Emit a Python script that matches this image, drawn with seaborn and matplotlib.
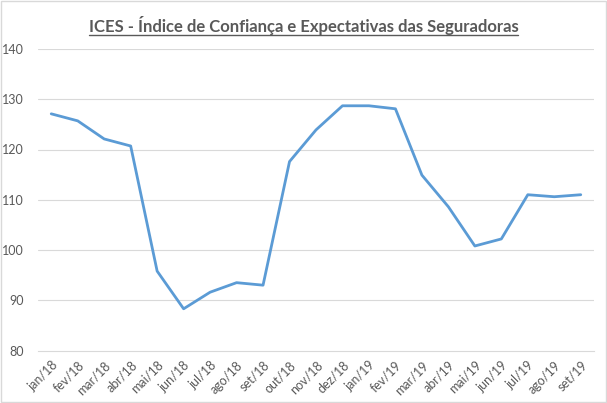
import matplotlib
matplotlib.use("Agg")
import matplotlib.pyplot as plt
import seaborn as sns
import pandas as pd
from matplotlib.patches import Rectangle
from matplotlib.lines import Line2D

months = ["jan/18", "fev/18", "mar/18", "abr/18", "mai/18", "jun/18", "jul/18",
          "ago/18", "set/18", "out/18", "nov/18", "dez/18", "jan/19", "fev/19",
          "mar/19", "abr/19", "mai/19", "jun/19", "jul/19", "ago/19", "set/19"]
ices = [127.1, 125.7, 122.1, 120.7, 95.8, 88.3, 91.6, 93.5, 93.0, 117.6,
        123.9, 128.7, 128.7, 128.1, 114.9, 108.6, 100.8, 102.2, 111.0, 110.6, 111.0]
yticks = [80, 90, 100, 110, 120, 130, 140]
title = "ICES - Índice de Confiança e Expectativas das Seguradoras"

sns.set_theme(style="white")
plt.rcParams['font.family'] = ['Lato', 'DejaVu Sans']

df = pd.DataFrame({"mes": months, "valor": ices})

fig = plt.figure(figsize=(6.07, 4.03), dpi=100)
ax = fig.add_axes([38/607, 1 - 350.5/403, (594-38)/607, (350.5-49)/403])

sns.lineplot(data=df, x="mes", y="valor", sort=False, ax=ax,
             color="#5b9bd5", linewidth=2.0)

ax.set_xlim(-0.5, len(months) - 0.5)
ax.set_ylim(80, 140)
ax.set_yticks(yticks)
ax.set_yticklabels([str(v) for v in yticks])
ax.set_xticks(range(len(months)))
ax.set_xticklabels(months, rotation=45, ha="right", rotation_mode="anchor")
ax.set_xticks([i - 0.5 for i in range(len(months) + 1)], minor=True)
ax.tick_params(axis="x", which="major", length=0, pad=6, labelsize=9, colors="#595959")
ax.tick_params(axis="x", which="minor", length=5, color="#d9d9d9", width=0.8)
ax.tick_params(axis="y", length=0, pad=10, labelsize=9, colors="#595959")
ax.set_xlabel("")
ax.set_ylabel("")

for y in yticks[1:]:
    ax.axhline(y, color="#d9d9d9", linewidth=0.8, zorder=0)
for s in ["top", "right", "left"]:
    ax.spines[s].set_visible(False)
ax.spines["bottom"].set_color("#d9d9d9")
ax.spines["bottom"].set_linewidth(0.8)

t = fig.text(0.5, 1 - 32/403, title, ha="center", va="baseline",
             fontsize=12, fontweight="bold", color="#595959")

fig.patches.append(Rectangle((0.002, 0.002), 0.996, 0.996, transform=fig.transFigure,
                             fill=False, edgecolor="#d9d9d9", linewidth=1))

fig.canvas.draw()
bb = t.get_window_extent(renderer=fig.canvas.get_renderer())
inv = fig.transFigure.inverted()
(x0, _), (x1, _) = inv.transform([(bb.x0, 0), (bb.x1, 0)])
uy = 1 - 35/403
fig.lines.append(Line2D([x0, x1], [uy, uy], transform=fig.transFigure,
                        color="#595959", linewidth=1.0))

fig.savefig("out.png", dpi=100)
